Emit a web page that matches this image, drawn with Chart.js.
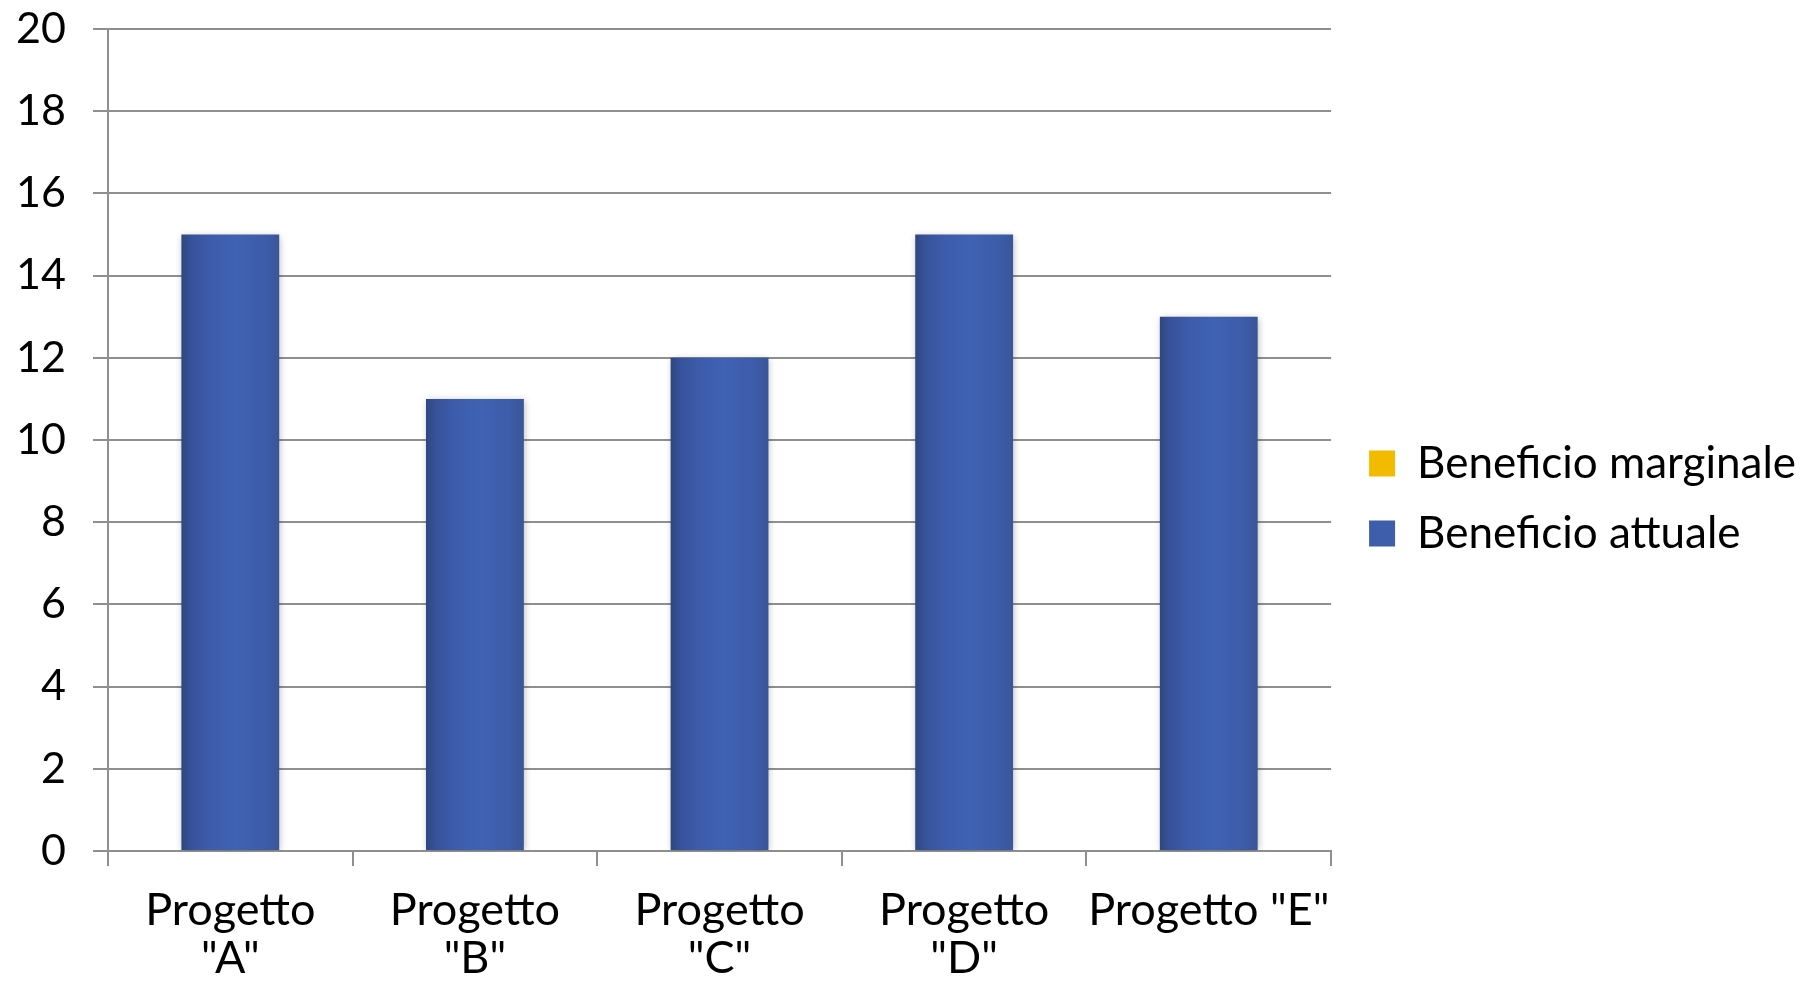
<!DOCTYPE html>
<html>
<head>
<meta charset="utf-8">
<script src="https://cdn.jsdelivr.net/npm/chart.js@4/dist/chart.umd.min.js"></script>
<style>
  html, body { margin: 0; padding: 0; background: #ffffff; overflow: hidden; }
  #wrap { width: 1804px; height: 984px; }
  canvas { display: block; }
</style>
</head>
<body>
<div id="wrap"><canvas id="chart" width="1804" height="984"></canvas></div>
<script>
// Categories and values
const categories = ['Progetto "A"', 'Progetto "B"', 'Progetto "C"', 'Progetto "D"', 'Progetto "E"'];
const tickLabels = [['Progetto', '"A"'], ['Progetto', '"B"'], ['Progetto', '"C"'], ['Progetto', '"D"'], 'Progetto "E"'];
const seriesNames = ['Beneficio marginale', 'Beneficio attuale'];
const beneficioMarginale = [null, null, null, null, null];
const beneficioAttuale = [15, 11, 12, 15, 13];
const yTicks = [0, 2, 4, 6, 8, 10, 12, 14, 16, 18, 20];

const FONT = "Lato, 'Open Sans', sans-serif";
const BAR_PCT = 0.4;
const GRID = '#8f8f8f';

// Horizontal shading across each bar
function shadedFill(base, stops) {
  return function (ctx) {
    if (ctx.type !== 'data') return base;
    const chart = ctx.chart;
    const xs = chart.scales && chart.scales.x;
    if (!xs || !chart.chartArea) return base;
    const center = xs.getPixelForValue(ctx.dataIndex);
    const half = (xs.width / categories.length) * BAR_PCT / 2;
    const g = chart.ctx.createLinearGradient(center - half, 0, center + half, 0);
    stops.forEach(s => g.addColorStop(s[0], s[1]));
    return g;
  };
}

const blueStops = [[0, '#2e4780'], [0.1, '#37529a'], [0.3, '#3d5cab'], [0.55, '#4062b2'], [0.85, '#3d5ca9'], [1, '#3a5699']];
const yellowStops = [[0, '#c99400'], [0.3, '#f0b800'], [1, '#f7c600']];

// Soft shadow under the bars
const barShadow = {
  id: 'barShadow',
  beforeDatasetsDraw(chart) {
    const c = chart.ctx;
    c.save();
    c.shadowColor = 'rgba(0,0,0,0.28)';
    c.shadowBlur = 7;
    c.shadowOffsetX = 1;
    c.shadowOffsetY = 1;
  },
  afterDatasetsDraw(chart) {
    chart.ctx.restore();
  }
};

new Chart(document.getElementById('chart'), {
  type: 'bar',
  data: {
    labels: tickLabels,
    datasets: [
      {
        label: seriesNames[0],
        data: beneficioMarginale,
        backgroundColor: shadedFill('#f2bc00', yellowStops),
        borderWidth: 0,
        barPercentage: BAR_PCT,
        categoryPercentage: 1
      },
      {
        label: seriesNames[1],
        data: beneficioAttuale,
        backgroundColor: shadedFill('#3d5ba8', blueStops),
        borderWidth: 0,
        barPercentage: BAR_PCT,
        categoryPercentage: 1
      }
    ]
  },
  options: {
    responsive: false,
    animation: false,
    devicePixelRatio: 1,
    layout: { padding: { top: 13, bottom: 0, left: 0, right: -2 } },
    plugins: {
      tooltip: { enabled: false },
      legend: {
        position: 'right',
        align: 'center',
        maxWidth: 600,
        labels: {
          color: '#000000',
          font: { family: FONT, size: 44 },
          boxWidth: 26,
          boxHeight: 26,
          padding: 26,
          generateLabels(chart) {
            const fills = ['#f2bb00', '#3e5dab'];
            return Chart.defaults.plugins.legend.labels.generateLabels(chart).map((item, i) => {
              item.fillStyle = fills[i];
              item.strokeStyle = 'rgba(0,0,0,0)';
              item.lineWidth = 0;
              return item;
            });
          }
        }
      }
    },
    scales: {
      x: {
        stacked: true,
        offset: true,
        grid: {
          display: true,
          offset: true,
          drawOnChartArea: false,
          drawTicks: true,
          tickLength: 15,
          color: GRID,
          lineWidth: 2
        },
        border: { display: true, color: GRID, width: 2 },
        ticks: {
          color: '#000000',
          font: { family: FONT, size: 45, lineHeight: 1.07 },
          padding: 20,
          maxRotation: 0,
          minRotation: 0,
          autoSkip: false
        },
        afterFit(scale) { scale.height = 984 - 851; }
      },
      y: {
        stacked: true,
        min: 0,
        max: 20,
        afterBuildTicks(scale) { scale.ticks = yTicks.map(v => ({ value: v })); },
        grid: {
          color: GRID,
          lineWidth: 2,
          drawTicks: true,
          tickLength: 15
        },
        border: { display: true, color: GRID, width: 2 },
        ticks: {
          color: '#000000',
          font: { family: FONT, size: 43, lineHeight: 4 / 43 },
          padding: 27,
          autoSkip: false
        },
        afterFit(scale) { scale.width = 108; }
      },
      gap: {
        position: 'right',
        type: 'linear',
        display: true,
        grid: { display: false },
        border: { display: false },
        ticks: { display: false },
        afterFit(scale) { scale.width = 12; }
      }
    }
  },
  plugins: [barShadow]
});
</script>
</body>
</html>
